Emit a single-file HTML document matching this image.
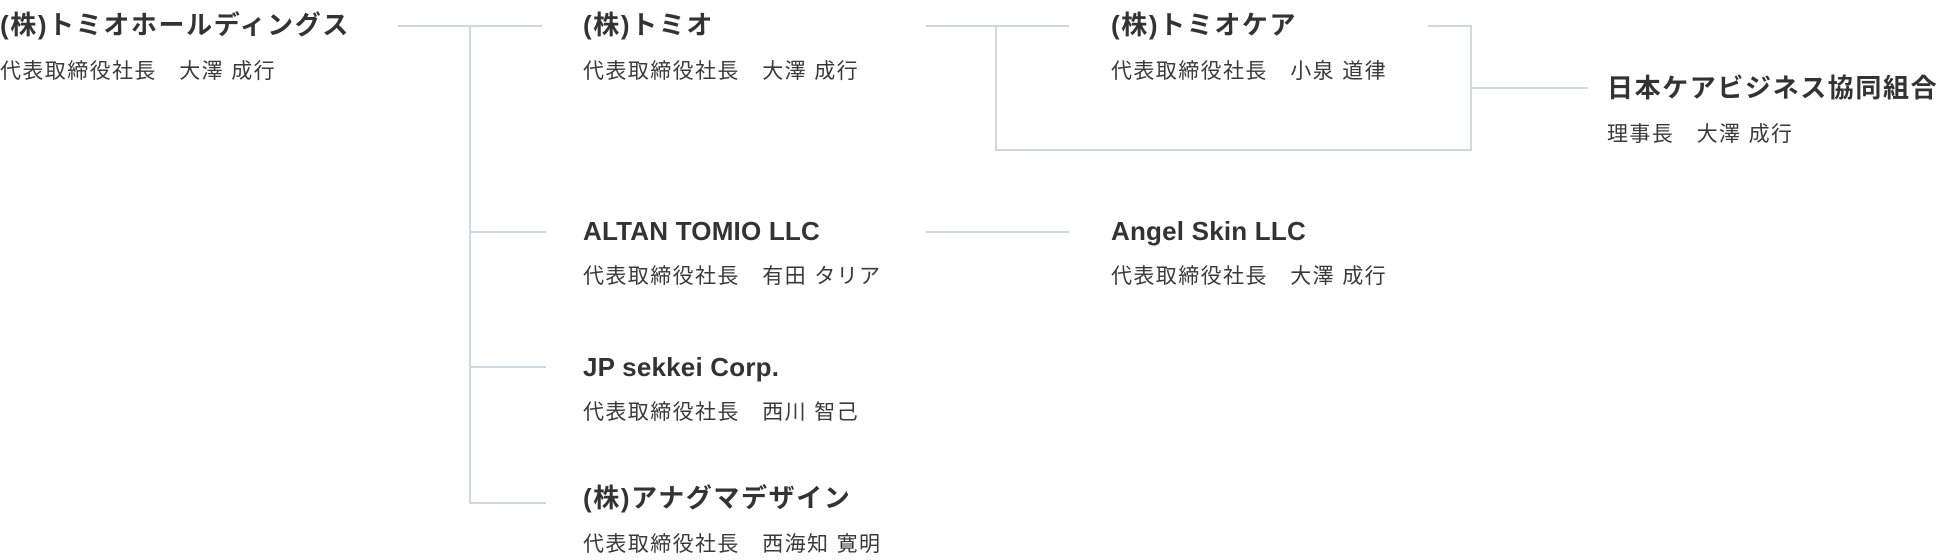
<!DOCTYPE html>
<html><head><meta charset="utf-8"><style>
html,body{margin:0;padding:0;background:#fff;}
body{width:1940px;height:560px;position:relative;overflow:hidden;font-family:"Liberation Sans","Noto Sans CJK JP",sans-serif;color:#333;}
.t{position:absolute;font-weight:bold;font-size:26px;line-height:30px;white-space:nowrap;letter-spacing:1.6px;}
.s{position:absolute;font-size:21px;line-height:30px;white-space:nowrap;letter-spacing:1.4px;color:#3a3a3a;}
.h{position:absolute;height:2px;background:#cfd7df;}
.v{position:absolute;width:2px;background:#cfd7df;}
.l{letter-spacing:0.2px;font-size:26px;}
</style></head><body>
<div class="t" style="left:0;top:10px;">(株)トミオホールディングス</div>
<div class="s" style="left:0;top:57px;">代表取締役社長　大澤 成行</div>

<div class="t" style="left:583px;top:10px;">(株)トミオ</div>
<div class="s" style="left:583px;top:57px;">代表取締役社長　大澤 成行</div>
<div class="t l" style="left:583px;top:216px;">ALTAN TOMIO LLC</div>
<div class="s" style="left:583px;top:262px;">代表取締役社長　有田 タリア</div>
<div class="t l" style="left:583px;top:352px;">JP sekkei Corp.</div>
<div class="s" style="left:583px;top:398px;">代表取締役社長　西川 智己</div>
<div class="t" style="left:583px;top:483px;">(株)アナグマデザイン</div>
<div class="s" style="left:583px;top:530px;">代表取締役社長　西海知 寛明</div>

<div class="t" style="left:1111px;top:10px;">(株)トミオケア</div>
<div class="s" style="left:1111px;top:57px;">代表取締役社長　小泉 道律</div>
<div class="t l" style="left:1111px;top:216px;">Angel Skin LLC</div>
<div class="s" style="left:1111px;top:262px;">代表取締役社長　大澤 成行</div>

<div class="t" style="left:1607px;top:73px;letter-spacing:1.6px;">日本ケアビジネス協同組合</div>
<div class="s" style="left:1607px;top:120px;">理事長　大澤 成行</div>

<!-- lines -->
<div class="h" style="left:398px;top:25px;width:144px;"></div>
<div class="v" style="left:469px;top:25px;height:479px;"></div>
<div class="h" style="left:469px;top:231px;width:77px;"></div>
<div class="h" style="left:469px;top:366px;width:77px;"></div>
<div class="h" style="left:469px;top:502px;width:77px;"></div>

<div class="h" style="left:926px;top:25px;width:143px;"></div>
<div class="v" style="left:995px;top:25px;height:126px;"></div>
<div class="h" style="left:995px;top:149px;width:477px;"></div>
<div class="h" style="left:1428px;top:25px;width:44px;"></div>
<div class="v" style="left:1470px;top:25px;height:126px;"></div>
<div class="h" style="left:1470px;top:87px;width:118px;"></div>

<div class="h" style="left:926px;top:231px;width:143px;"></div>
</body></html>
